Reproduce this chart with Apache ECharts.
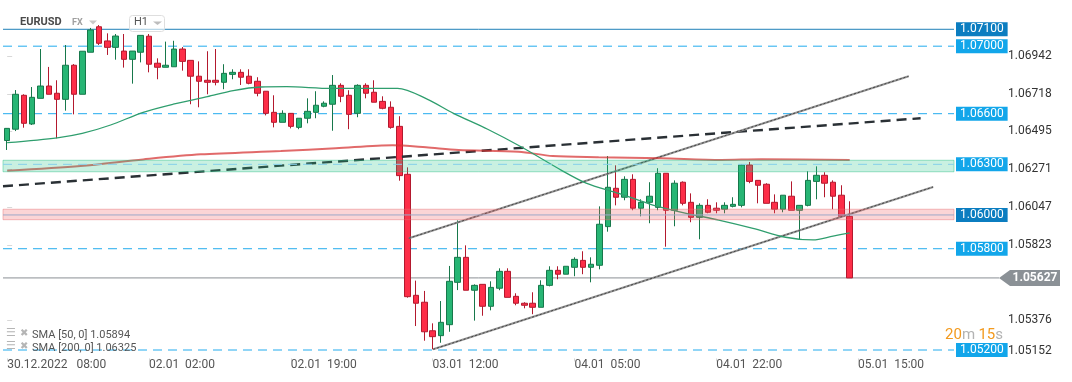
<!DOCTYPE html>
<html>
<head>
<meta charset="utf-8">
<script src="https://cdn.jsdelivr.net/npm/echarts@6/dist/echarts.min.js"></script>
<style>html,body{margin:0;padding:0;background:#fff;}#c{width:1072px;height:382px;}</style>
</head>
<body>
<div id="c"></div>
<script>
// ---------- DATA ----------
const tickLabels = ['30.12.2022   08:00', '02.01  02:00', '02.01  19:00', '03.01  12:00', '04.01  05:00', '04.01  22:00', '05.01  15:00'];
const labelEvery = 17;
const slotCount = 114;
const categories = Array.from({length: slotCount}, (_, i) => 'h' + i);
const priceTicks = [1.06942, 1.06718, 1.06495, 1.06271, 1.06047, 1.05823, 1.05376, 1.05152];

// candles: [open, close, low, high]
const candles = [
[1.06441,1.06513,1.06385,1.06515],[1.06508,1.06715,1.06497,1.06740],[1.06709,1.06543,1.06517,1.06715],[1.06539,1.06697,1.06533,1.06758],
[1.06691,1.06764,1.06691,1.06983],[1.06764,1.06715,1.06715,1.06877],[1.06721,1.06685,1.06454,1.06798],[1.06685,1.06887,1.06618,1.07007],
[1.06887,1.06715,1.06596,1.06894],[1.06715,1.06970,1.06715,1.06970],[1.06964,1.07096,1.06964,1.07108],[1.07115,1.07017,1.07007,1.07125],
[1.07031,1.06993,1.06948,1.07076],[1.06993,1.07060,1.06920,1.07072],[1.06971,1.06922,1.06873,1.07072],[1.06922,1.06971,1.06778,1.06971],
[1.06964,1.07064,1.06904,1.07064],[1.07059,1.06893,1.06845,1.07072],[1.06899,1.06875,1.06804,1.06928],[1.06875,1.06887,1.06875,1.07027],
[1.06878,1.06983,1.06878,1.07032],[1.06983,1.06910,1.06855,1.06995],[1.06916,1.06822,1.06656,1.06916],[1.06822,1.06792,1.06638,1.06910],
[1.06798,1.06786,1.06715,1.06970],[1.06798,1.06786,1.06768,1.06983],[1.06786,1.06839,1.06745,1.06893],[1.06833,1.06845,1.06804,1.06863],
[1.06845,1.06816,1.06770,1.06863],[1.06822,1.06780,1.06774,1.06863],[1.06792,1.06721,1.06703,1.06816],[1.06733,1.06602,1.06590,1.06733],
[1.06608,1.06549,1.06519,1.06709],[1.06549,1.06602,1.06549,1.06620],[1.06602,1.06525,1.06513,1.06604],[1.06519,1.06573,1.06508,1.06573],
[1.06573,1.06614,1.06543,1.06691],[1.06608,1.06650,1.06573,1.06733],[1.06644,1.06662,1.06638,1.06673],[1.06656,1.06768,1.06499,1.06829],
[1.06768,1.06703,1.06668,1.06780],[1.06709,1.06596,1.06508,1.06739],[1.06602,1.06768,1.06579,1.06774],[1.06768,1.06721,1.06691,1.06780],
[1.06727,1.06668,1.06668,1.06798],[1.06673,1.06632,1.06626,1.06703],[1.06638,1.06519,1.06511,1.06673],[1.06525,1.06233,1.06203,1.06585],
[1.06241,1.05516,1.05510,1.06282],[1.05524,1.05477,1.05342,1.05611],[1.05483,1.05308,1.05255,1.05550],[1.05314,1.05279,1.05204,1.05358],
[1.05285,1.05364,1.05243,1.05490],[1.05350,1.05607,1.05308,1.05698],[1.05601,1.05749,1.05555,1.05968],[1.05749,1.05554,1.05554,1.05820],
[1.05554,1.05583,1.05374,1.05589],[1.05589,1.05459,1.05403,1.05589],[1.05459,1.05571,1.05435,1.05607],[1.05566,1.05666,1.05554,1.05684],
[1.05666,1.05512,1.05512,1.05684],[1.05518,1.05477,1.05465,1.05536],[1.05477,1.05465,1.05447,1.05483],[1.05477,1.05453,1.05412,1.05542],
[1.05453,1.05583,1.05453,1.05613],[1.05583,1.05672,1.05577,1.05696],[1.05672,1.05649,1.05619,1.05696],[1.05649,1.05696,1.05649,1.05696],
[1.05690,1.05737,1.05637,1.05749],[1.05731,1.05690,1.05649,1.05785],[1.05690,1.05708,1.05601,1.05749],[1.05702,1.05945,1.05678,1.06051],
[1.05931,1.06164,1.05901,1.06349],[1.06158,1.06105,1.06057,1.06294],[1.06105,1.06211,1.06087,1.06229],[1.06211,1.06040,1.06028,1.06241],
[1.06040,1.06075,1.05992,1.06093],[1.06075,1.06111,1.05951,1.06194],[1.06045,1.06247,1.06028,1.06277],[1.06247,1.06028,1.05812,1.06247],
[1.06028,1.06188,1.05933,1.06205],[1.06194,1.06069,1.06057,1.06199],[1.06075,1.05986,1.05957,1.06128],[1.05986,1.06057,1.05856,1.06069],
[1.06057,1.06016,1.06010,1.06093],[1.06040,1.06028,1.06010,1.06075],[1.06034,1.06057,1.06010,1.06075],[1.06051,1.06063,1.06045,1.06105],
[1.06057,1.06296,1.06045,1.06302],[1.06296,1.06199,1.06188,1.06314],[1.06205,1.06176,1.06069,1.06205],[1.06182,1.06069,1.06069,1.06188],
[1.06075,1.06034,1.06010,1.06122],[1.06034,1.06117,1.06016,1.06117],[1.06111,1.06028,1.06028,1.06199],[1.06028,1.06057,1.05856,1.06057],
[1.06057,1.06205,1.06051,1.06259],[1.06199,1.06235,1.06093,1.06288],[1.06235,1.06188,1.06105,1.06253],[1.06194,1.06111,1.06034,1.06205],
[1.06117,1.05992,1.05986,1.06176],[1.05992,1.05627,1.05627,1.06081]
];

// SMA lines: [slot index, price]
const sma50 = [[0,1.06428],[6,1.06457],[9,1.06483],[12.4,1.06533],[16.3,1.06608],[19.9,1.06656],[24,1.06701],[27.1,1.06737],
  [30.4,1.06758],[33.5,1.06760],[38.8,1.06750],[46.8,1.06750],[50.4,1.06685],[53.5,1.06602],[57.6,1.06508],[61.6,1.06404],
  [66.4,1.06266],[69.4,1.06189],[73.3,1.06128],[77.4,1.06059],[81.4,1.06010],[85.3,1.05970],[89.4,1.05921],[93.3,1.05868],
  [96.6,1.05852],[99,1.05875],[101,1.05894]];
const sma200 = [[0,1.06262],[8.8,1.06290],[16.3,1.06329],[23.2,1.06359],[32.8,1.06379],[39.4,1.06395],[46.2,1.06413],
  [50.2,1.06401],[54.1,1.06385],[61.3,1.06375],[65.4,1.06349],[70.9,1.06342],[78.4,1.06336],[85.6,1.06326],[90.4,1.06330],[101,1.06325]];

// trend lines: [slot index, price]
const blackTrend = [[-0.5,1.06170],[109.5,1.06573]];
const channelUpper = [[48.15,1.05862],[108.06,1.06822]];
const channelLower = [[51.07,1.05204],[111.0,1.06166]];

// horizontal levels
const levelsDark = [1.07100];
const levelsDashed = [1.07000, 1.06600, 1.05800, 1.05200];
const level1063 = 1.06300;
const level1060 = 1.06000;
const greenZone = [1.06324, 1.06256];
const redZone = [1.06034, 1.05972];
const lastPrice = 1.05627;
const smaLegend = ['SMA [50, 0] 1.05894', 'SMA [200, 0] 1.06325'];

// ---------- CHART ----------
const yMin = 1.0515, yMax = 1.071906;
const FONT = 'Roboto';
const xLo = -0.5, xHi = slotCount - 0.5;
const chart = echarts.init(document.getElementById('c'), null, {renderer: 'canvas'});

function levelSeries(v, lineStyle, labelBg, z) {
  return {
    type: 'line', xAxisIndex: 1, yAxisIndex: 0, data: [[xLo, v], [xHi, v]], symbol: 'none', silent: true, z: z,
    lineStyle: lineStyle,
    endLabel: labelBg ? {
      show: true, distance: 2, formatter: () => v.toFixed(5),
      backgroundColor: labelBg, color: '#fff', fontSize: 12, fontFamily: FONT,
      lineHeight: 12, padding: [1, 4, 1, 4]
    } : {show: false}
  };
}
const dashStyle = () => ({color: '#22abee', width: 1, type: [9, 6]});

const series = [];
levelsDark.forEach(v => series.push(levelSeries(v, {color: '#1f80b8', width: 1}, '#0b7dc0', 1)));
levelsDashed.forEach(v => series.push(levelSeries(v, dashStyle(), '#12a6ea', 1)));
series.push(levelSeries(lastPrice, {color: '#8a8f94', width: 1}, null, 1));

series.push(
  {name: 'EURUSD', type: 'candlestick', xAxisIndex: 0, yAxisIndex: 0, data: candles, barWidth: 6, z: 2,
   itemStyle: {color: '#27b574', color0: '#fd2e48', borderColor: '#17784b', borderColor0: '#b3192e', borderWidth: 1}},
  {name: 'blackTrend', type: 'line', xAxisIndex: 1, data: blackTrend, symbol: 'none', z: 3,
   lineStyle: {color: '#2a3035', width: 2.4, type: [10, 6]}},
  {type: 'line', xAxisIndex: 1, data: channelUpper, symbol: 'none', z: 3, lineStyle: {color: 'rgba(135,135,135,0.9)', width: 2}},
  {type: 'line', xAxisIndex: 1, data: channelUpper, symbol: 'none', z: 3, lineStyle: {color: '#444', width: 1, type: [2, 2]}},
  {type: 'line', xAxisIndex: 1, data: channelLower, symbol: 'none', z: 3, lineStyle: {color: 'rgba(135,135,135,0.9)', width: 2}},
  {type: 'line', xAxisIndex: 1, data: channelLower, symbol: 'none', z: 3, lineStyle: {color: '#444', width: 1, type: [2, 2]}},
  {name: 'SMA200', type: 'line', xAxisIndex: 1, data: sma200, symbol: 'none', smooth: 0.3, z: 3,
   lineStyle: {color: 'rgba(214,48,48,0.72)', width: 2}},
  {name: 'SMA50', type: 'line', xAxisIndex: 1, data: sma50, symbol: 'none', smooth: 0.3, z: 3,
   lineStyle: {color: '#2f9e6e', width: 1.3}},
  {name: 'zones', type: 'line', xAxisIndex: 1, data: [[xLo, null]], z: 4, symbol: 'none',
   markArea: {silent: true, z: 10, data: [
     [{yAxis: greenZone[0], itemStyle: {color: 'rgba(39,195,135,0.25)', borderColor: 'rgba(39,190,130,0.45)', borderWidth: 1}}, {yAxis: greenZone[1]}],
     [{yAxis: redZone[0], itemStyle: {color: 'rgba(239,87,91,0.25)', borderColor: 'rgba(230,110,115,0.45)', borderWidth: 1}}, {yAxis: redZone[1]}]
   ]}},
  levelSeries(level1063, {color: '#86d0ea', width: 1, type: [9, 6]}, '#12a6ea', 11),
  levelSeries(level1060, {color: '#9ca8c8', width: 1}, '#0b7dc0', 11),
  {name: 'lastPrice', type: 'line', xAxisIndex: 2, yAxisIndex: 1, data: [[0, lastPrice], [45, lastPrice]], symbol: 'none', z: 3,
   lineStyle: {color: '#8a8f94', width: 1},
   markPoint: {silent: true, z: 12, data: [{coord: [75.5, lastPrice], value: lastPrice}],
     symbol: 'path://M0,8L11,0L61,0L61,16L11,16Z', symbolSize: [61, 16], symbolKeepAspect: false,
     itemStyle: {color: '#8b9196'},
     label: {show: true, position: 'inside', offset: [5.5, 0], formatter: p => p.value.toFixed(5),
       color: '#fff', fontWeight: 'bold', fontSize: 12, fontFamily: FONT}}}
);

const option = {
  animation: false,
  grid: [
    {left: 3, width: 951, top: 14, height: 344.44},
    {left: 954, right: 0, top: 14, height: 344.44}
  ],
  xAxis: [
    {type: 'category', gridIndex: 0, data: categories, boundaryGap: true,
     axisLine: {show: false},
     axisTick: {show: true, alignWithLabel: true, interval: labelEvery - 1, length: 3, lineStyle: {color: '#d5d5d5'}},
     axisLabel: {interval: labelEvery - 1, align: 'left', color: '#555', fontSize: 12, fontFamily: FONT, margin: 1,
       formatter: (v, i) => (i % labelEvery === 0 && tickLabels[i / labelEvery]) ? tickLabels[i / labelEvery] : ''},
     splitLine: {show: false}},
    {type: 'value', gridIndex: 0, min: xLo, max: xHi, show: false},
    {type: 'value', gridIndex: 1, min: 0, max: 118, show: false}
  ],
  yAxis: [
    {type: 'value', gridIndex: 0, min: yMin, max: yMax, position: 'right', offset: 51,
     axisLine: {show: false}, splitLine: {show: false},
     axisTick: {show: true, customValues: priceTicks.filter(v => v > 1.052), length: 5, lineStyle: {color: '#d8d8d8'}},
     axisLabel: {customValues: priceTicks, color: '#333', fontSize: 12, fontFamily: FONT, margin: 3,
       formatter: v => (Math.abs(v - 1.05152) < 1e-7 ? '{low|' + v.toFixed(5) + '}' : v.toFixed(5)),
       rich: {low: {padding: [0, 0, 14, 0], color: '#333', fontSize: 12, fontFamily: FONT}}}},
    {type: 'value', gridIndex: 1, min: yMin, max: yMax, show: false}
  ],
  series: series,
  graphic: [
    {type: 'text', left: 20, top: 17, z: 100, style: {text: 'EURUSD', font: 'bold 11px Roboto', fill: '#4a4a4a'}},
    {type: 'text', left: 72, top: 18, z: 100, style: {text: 'FX', font: 'bold 9px Roboto', fill: '#a0a0a0'}},
    {type: 'polygon', z: 100, shape: {points: [[89, 20.5], [97, 20.5], [93, 24.5]]}, style: {fill: '#c8c8c8'}},
    {type: 'rect', z: 100, shape: {x: 129.5, y: 15.5, width: 35, height: 16, r: 3}, style: {fill: 'rgba(255,255,255,0.6)', stroke: '#dedede', lineWidth: 1}},
    {type: 'text', left: 134, top: 17, z: 101, style: {text: 'H1', font: '11px Roboto', fill: '#555'}},
    {type: 'polygon', z: 101, shape: {points: [[153, 21.5], [162, 21.5], [157.5, 25]]}, style: {fill: '#bdbdbd'}},
    {type: 'text', left: 6, top: 328, z: 100, style: {text: '☰', font: '11px "DejaVu Sans"', fill: '#b5b5b5'}},
    {type: 'text', left: 20, top: 328, z: 100, style: {text: '✖', font: '10px "DejaVu Sans"', fill: '#b5b5b5'}},
    {type: 'text', left: 32, top: 329.5, z: 100, style: {text: smaLegend[0], font: '11px Roboto', fill: '#555'}},
    {type: 'text', left: 6, top: 341, z: 100, style: {text: '☰', font: '11px "DejaVu Sans"', fill: '#b5b5b5'}},
    {type: 'text', left: 20, top: 341, z: 100, style: {text: '✖', font: '10px "DejaVu Sans"', fill: '#b5b5b5'}},
    {type: 'text', left: 32, top: 343, z: 100, style: {text: smaLegend[1], font: '11px Roboto', fill: '#555'}},
    {type: 'text', right: 69, top: 328, z: 100, style: {
      text: '{o|20}{g|m} {o|15}{g|s}',
      rich: {o: {fill: '#f39a1e', font: '15px Roboto'}, g: {fill: '#b3b3b3', font: '15px Roboto'}}}}
  ]
};
chart.setOption(option);
</script>
</body>
</html>
